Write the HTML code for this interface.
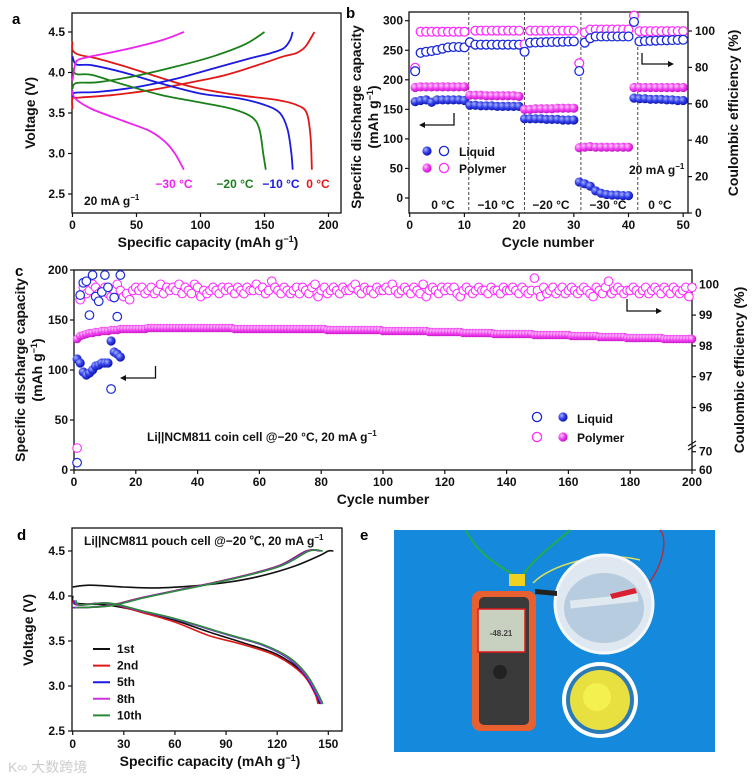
<!DOCTYPE html>
<html><head><meta charset="utf-8"><style>
html,body{margin:0;padding:0;background:#fff;}
svg{display:block;font-family:"Liberation Sans",Arial,"Noto Sans CJK SC",sans-serif;font-weight:bold;}
.t{font-size:12px;fill:#111;}
.ti{font-size:14px;fill:#111;}
.ax{stroke:#111;stroke-width:1.3;fill:none;}
</style></head><body>
<svg id="fig" width="753" height="778" viewBox="0 0 753 778" xmlns="http://www.w3.org/2000/svg">
<defs>
<radialGradient id="gB" cx="35%" cy="35%" r="70%"><stop offset="0" stop-color="#a8b4ff"/><stop offset="0.5" stop-color="#3340e8"/><stop offset="1" stop-color="#0b10a8"/></radialGradient>
<radialGradient id="gM" cx="35%" cy="35%" r="70%"><stop offset="0" stop-color="#ffd0ff"/><stop offset="0.5" stop-color="#f040f0"/><stop offset="1" stop-color="#c010c0"/></radialGradient>
</defs>
<g id="pa">
<text x="12" y="24" style="font-size:15px">a</text>
<rect class="ax" x="72" y="13" width="269" height="200"/>
<text class="ti" transform="translate(35,113) rotate(-90)" text-anchor="middle">Voltage (V)</text>
<text class="ti" x="208" y="247" text-anchor="middle">Specific capacity (mAh g<tspan dy="-5" style="font-size:9px">−1</tspan><tspan dy="5">)</tspan></text>
<text class="t" x="84" y="205">20 mA g<tspan dy="-5" style="font-size:8px">−1</tspan></text>
<text class="t" x="174" y="188" text-anchor="middle" style="fill:#ee22ee">−30 °C</text>
<text class="t" x="235" y="188" text-anchor="middle" style="fill:#1a801a">−20 °C</text>
<text class="t" x="281" y="188" text-anchor="middle" style="fill:#1a1ae0">−10 °C</text>
<text class="t" x="318" y="188" text-anchor="middle" style="fill:#e01818">0 °C</text>
</g>
<g id="pb">
<text x="346" y="18" style="font-size:15px">b</text>
<rect class="ax" x="409" y="12" width="279" height="201"/>
<text class="ti" transform="translate(361,117) rotate(-90)" text-anchor="middle">Specific discharge capacity</text>
<text class="ti" transform="translate(378,117) rotate(-90)" text-anchor="middle">(mAh g<tspan dy="-5" style="font-size:9px">−1</tspan><tspan dy="5">)</tspan></text>
<text class="ti" transform="translate(738,113) rotate(-90)" text-anchor="middle">Coulombic efficiency (%)</text>
<text class="ti" x="548" y="247" text-anchor="middle">Cycle number</text>
<text class="t" x="443" y="209" text-anchor="middle">0 °C</text>
<text class="t" x="496" y="209" text-anchor="middle">−10 °C</text>
<text class="t" x="551" y="209" text-anchor="middle">−20 °C</text>
<text class="t" x="608" y="209" text-anchor="middle">−30 °C</text>
<text class="t" x="660" y="209" text-anchor="middle">0 °C</text>
<text class="t" x="629" y="174">20 mA g<tspan dy="-5" style="font-size:8px">−1</tspan></text>
<text class="t" x="459" y="156">Liquid</text>
<text class="t" x="459" y="173">Polymer</text>
<path class="ax" d="M454 113 V125 H422"/><path d="M419 125 l6 -3 v6z" fill="#111"/>
<path class="ax" d="M642 53 V64 H670"/><path d="M674 64 l-6 -3 v6z" fill="#111"/>
</g>
<g id="pc">
<text x="15" y="276" style="font-size:15px">c</text>
<rect class="ax" x="74" y="270" width="618" height="200"/>
<text class="ti" transform="translate(25,370) rotate(-90)" text-anchor="middle">Specific discharge capacity</text>
<text class="ti" transform="translate(42,370) rotate(-90)" text-anchor="middle">(mAh g<tspan dy="-5" style="font-size:9px">−1</tspan><tspan dy="5">)</tspan></text>
<text class="ti" transform="translate(744,370) rotate(-90)" text-anchor="middle">Coulombic efficiency (%)</text>
<text class="ti" x="383" y="504" text-anchor="middle">Cycle number</text>
<text class="t" x="147" y="441">Li||NCM811 coin cell @−20 °C, 20 mA g<tspan dy="-5" style="font-size:8px">−1</tspan></text>
<text class="t" x="577" y="423">Liquid</text>
<text class="t" x="577" y="442">Polymer</text>
<path class="ax" d="M155.5 366 V378 H124"/><path d="M120 378 l6 -3 v6z" fill="#111"/>
<path class="ax" d="M627 299 V311 H658"/><path d="M662 311 l-6 -3 v6z" fill="#111"/>
<path d="M688 446 l8 -5 M688 450 l8 -5" stroke="#111" stroke-width="1.2"/>
</g>
<g id="pd">
<text x="17" y="540" style="font-size:15px">d</text>
<rect class="ax" x="72" y="528" width="270" height="203"/>
<text class="ti" transform="translate(33,630) rotate(-90)" text-anchor="middle">Voltage (V)</text>
<text class="ti" x="210" y="766" text-anchor="middle">Specific capacity (mAh g<tspan dy="-5" style="font-size:9px">−1</tspan><tspan dy="5">)</tspan></text>
<text class="t" x="84" y="545">Li||NCM811 pouch cell @−20 ℃,   20 mA g<tspan dy="-5" style="font-size:8px">−1</tspan></text>
<text x="8" y="772" style="font-size:14px;fill:#ccc;font-weight:normal">K∞ 大数跨境</text>
</g>
<g id="pe">
<text x="360" y="540" style="font-size:15px">e</text>
<g>
<rect x="394" y="530" width="321" height="222" fill="#1a8fe0"/>
<rect x="394" y="530" width="321" height="222" fill="#0f7fd8" opacity="0.4"/>
<path d="M466 530 C480 560 510 570 520 580 M520 580 C530 560 560 540 570 530" stroke="#22aa55" stroke-width="2" fill="none"/>
<path d="M533 583 C550 565 600 550 640 560" stroke="#d8e060" stroke-width="1.5" fill="none"/>
<path d="M636 594 C660 580 670 540 660 530" stroke="#b03040" stroke-width="1.5" fill="none"/>
<circle cx="604" cy="604" r="49" fill="#dfe8f0" stroke="#f4f8fb" stroke-width="3"/>
<ellipse cx="604" cy="608" rx="40" ry="35" fill="#b8cce0"/>
<rect x="570" y="597" width="68" height="8" fill="#e0e8f0" transform="rotate(-6 604 600)"/>
<path d="M535 589 l22 2 l0 5 l-22 -2z" fill="#222"/>
<path d="M610 594 l25 -6 l2 5 l-25 6z" fill="#d82030"/>
<circle cx="600" cy="700" r="38" fill="#fff"/>
<circle cx="600" cy="700" r="34" fill="#2a7ab8"/>
<circle cx="600" cy="700" r="30" fill="#e8e040"/>
<circle cx="597" cy="697" r="14" fill="#f4f050"/>
<rect x="509" y="574" width="16" height="12" fill="#f0d020"/>
<rect x="472" y="591" width="64" height="140" rx="8" fill="#e86030"/>
<rect x="479" y="597" width="50" height="128" rx="5" fill="#3a3a3a"/>
<rect x="478" y="609" width="47" height="43" fill="#c8d0c0" stroke="#e01818" stroke-width="1.5"/>
<text x="501" y="636" text-anchor="middle" style="font-size:8px;fill:#444">-48.21</text>
<circle cx="500" cy="672" r="7" fill="#222"/>
</g>
</g>
<g id="marks"></g>
</svg>
<script>
// ---------- Panel a data (capacity, voltage) ----------
const a0C_cap=[0,0,5,30,60,90,120,150,165,175,182,189];
const a0C_v=[3.55,3.68,3.69,3.72,3.78,3.87,3.97,4.12,4.2,4.24,4.32,4.5];
const a0D_cap=[0,0,5,20,40,60,80,100,130,160,175,183,186,187];
const a0D_v=[4.38,4.28,4.22,4.17,4.08,3.98,3.88,3.8,3.72,3.66,3.6,3.5,3.2,2.8];
const a10C_cap=[0,2,20,50,80,110,140,155,165,170,172];
const a10C_v=[3.7,3.75,3.76,3.82,3.92,4.05,4.18,4.24,4.3,4.4,4.5];
const a10D_cap=[0,3,15,40,70,100,130,150,162,168,171,172];
const a10D_v=[4.2,4.1,4.09,4.0,3.86,3.74,3.68,3.6,3.5,3.3,3.0,2.8];
const a20C_cap=[0,3,20,50,80,110,135,150];
const a20C_v=[3.8,3.87,3.88,3.96,4.07,4.2,4.35,4.5];
const a20D_cap=[0,3,15,40,70,100,125,140,146,149,151];
const a20D_v=[4.05,3.98,3.97,3.85,3.72,3.63,3.55,3.45,3.3,3.0,2.8];
const a30C_cap=[0,2,5,15,40,70,87];
const a30C_v=[3.9,4.1,4.16,4.2,4.28,4.4,4.5];
const a30D_cap=[0,2,15,40,60,72,80,87];
const a30D_v=[3.78,3.68,3.55,3.4,3.28,3.15,3.0,2.8];
const aXTicks=[0,50,100,150,200];
const aYTicks=[2.5,3.0,3.5,4.0,4.5];
// ---------- Panel b data ----------
const bCycles=[1,2,3,4,5,6,7,8,9,10,11,12,13,14,15,16,17,18,19,20,21,22,23,24,25,26,27,28,29,30,31,32,33,34,35,36,37,38,39,40,41,42,43,44,45,46,47,48,49,50];
const bLiqCap=[163,165,166,162,166,166,166,166,166,165,157,157,156,156,156,155,155,155,155,155,134,134,134,134,133,133,133,132,132,132,27,24,20,12,8,6,5,5,4,4,169,168,168,167,167,167,166,166,165,165];
const bPolCap=[187,188,188,188,188,188,188,188,188,188,174,174,174,173,173,173,173,173,173,172,150,150,151,151,151,151,152,152,152,152,85,86,87,86,86,86,86,86,86,86,187,187,187,187,187,187,187,187,187,187];
const bLiqCE=[77.9,88,88.6,89,89.5,90.3,91,91.2,91.2,91,93.8,92.5,92.5,92.5,92.5,92.5,92.5,92.5,92.5,92.5,88.6,93.6,93.7,93.8,93.9,94,94,94.1,94.2,94.3,78,93.6,96,97,97,97,97,97,97,97,105,94.3,94.5,94.6,94.7,94.8,94.9,95,95.1,95.2];
const bPolCE=[79.8,99.6,99.6,99.6,99.6,99.6,99.6,99.6,99.6,99.6,93.7,100.2,100.2,100.2,100.2,100.2,100.2,100.2,100.2,100.2,92.7,100.2,100.2,100.2,100.2,100.2,100.2,100.2,100.2,100.2,82.3,99.2,100.8,100.8,100.8,100.8,100.8,100.8,100.8,100.8,108.4,99.9,99.9,99.9,99.9,99.9,99.9,99.9,99.9,99.9];
const bXTicks=[0,10,20,30,40,50];
const bYTicks=[0,50,100,150,200,250,300];
const bY2Ticks=[0,20,40,60,80,100];
const bDividers=[10.8,21,31.3,41.7];
// ---------- Panel c data ----------
const cLiqCap=[111,107,98,95,97,100,104,105,107,107,107,129,118,116,113];
const cLiqCE=[64,99.65,100.05,100.1,99.0,100.3,99.6,99.45,99.75,100.3,99.9,96.6,99.57,98.95,100.3];
const cPolCap=[131,134,135,136,137,137,138,138,139,139,139,140,140,140,141,141,141,141,141,141,
141,141,141,142,142,142,142,142,142,142,142,142,142,142,142,142,142,142,142,142,
142,142,142,142,142,142,142,142,142,142,142,141,141,141,141,141,141,141,141,141,
141,141,141,141,141,141,141,141,141,141,141,141,141,141,141,141,141,141,141,141,
141,140,140,140,140,140,140,140,140,140,140,140,140,140,140,140,140,140,140,139,
139,139,139,139,139,139,139,139,139,139,139,139,139,139,138,138,138,138,138,138,
138,138,138,138,138,137,137,137,137,137,137,137,137,137,137,136,136,136,136,136,
136,136,136,136,136,136,136,136,135,135,135,135,135,135,135,135,135,135,135,135,
134,134,134,134,134,134,134,134,134,133,133,133,133,133,133,133,133,133,132,132,
132,132,132,132,132,132,132,132,132,132,131,131,131,131,131,131,131,131,131,131];
const cPolCE=[72,99.5,99.9,99.7,99.8,100.0,99.9,99.7,99.8,99.9,99.7,99.6,99.8,100.0,99.8,99.6,99.7,99.5,99.8,99.9,
99.8,99.9,99.7,99.8,99.9,99.7,99.8,100.0,99.7,99.9,99.8,99.9,99.8,100.0,99.7,99.9,99.8,99.7,100.0,99.9,
99.6,99.8,99.7,99.8,99.9,99.8,99.7,99.9,99.8,99.9,99.8,99.7,99.9,99.8,99.7,99.9,99.8,99.8,100.0,99.8,
99.9,99.7,99.8,100.1,99.9,99.8,99.7,99.9,99.8,99.7,99.8,99.9,99.7,99.9,99.8,99.7,99.9,100.0,99.6,99.8,
99.9,99.7,99.8,99.9,99.8,99.7,99.9,99.8,99.8,99.9,100.0,99.8,99.7,99.9,99.8,99.8,99.7,99.9,99.8,99.8,
99.9,99.8,100.0,99.8,99.7,99.8,99.9,99.8,99.7,99.9,99.8,99.7,100.0,99.6,99.8,99.9,99.8,99.7,99.9,99.8,
99.9,99.8,99.9,99.7,99.6,99.8,99.9,99.8,99.7,99.8,99.9,99.8,99.8,99.7,99.9,99.8,99.8,99.7,99.9,99.8,
99.8,99.9,99.8,99.7,99.9,99.8,99.7,99.8,100.2,99.8,99.6,99.9,99.7,99.8,99.9,99.7,99.8,99.9,99.7,99.8,
99.9,99.8,99.7,99.8,99.9,99.8,99.7,99.6,99.9,99.8,99.7,99.9,100.1,99.7,99.8,99.9,99.8,99.7,99.8,99.8,
99.9,99.8,99.7,99.8,99.9,99.7,99.8,99.9,99.8,99.7,99.9,99.8,99.7,99.9,99.8,99.7,99.8,99.9,99.6,99.9];
const cXTicks=[0,20,40,60,80,100,120,140,160,180,200];
const cYTicks=[0,50,100,150,200];
const cY2Ticks=[60,70,96,97,98,99,100];
// ---------- Panel d data ----------
const d1C_cap=[0,10,30,50,70,90,110,130,145,150,153];
const d1C_v=[4.1,4.12,4.1,4.09,4.11,4.15,4.22,4.33,4.45,4.5,4.5];
const dC_cap=[0,20,40,60,90,120,137,145];
const dC_v=[3.87,3.89,3.98,4.06,4.18,4.33,4.5,4.5];
const d1D_cap=[0,2,20,40,60,80,100,120,135,142,145];
const d1D_v=[4.0,3.92,3.9,3.83,3.73,3.6,3.48,3.35,3.15,2.95,2.8];
const d2D_cap=[0,3,20,40,60,80,100,120,135,142,144];
const d2D_v=[3.95,3.9,3.92,3.82,3.71,3.56,3.46,3.33,3.13,2.92,2.8];
const dND_cap=[0,3,20,40,60,90,110,125,135,142,145];
const dND_v=[3.95,3.9,3.92,3.83,3.74,3.57,3.46,3.32,3.14,2.92,2.8];
const dXTicks=[0,30,60,90,120,150];
const dYTicks=[2.5,3.0,3.5,4.0,4.5];

const NS='http://www.w3.org/2000/svg';
const root=document.getElementById('marks');
function mk(tag,attrs,parent){const e=document.createElementNS(NS,tag);for(const k in attrs)e.setAttribute(k,attrs[k]);(parent||root).appendChild(e);return e;}
function line(caps,vs,fx,fy,color,w){
  const P=caps.map((c,i)=>[fx(c),fy(vs[i])]);
  let d='M'+P[0][0].toFixed(1)+' '+P[0][1].toFixed(1);
  for(let i=0;i<P.length-1;i++){
    const p0=P[Math.max(0,i-1)],p1=P[i],p2=P[i+1],p3=P[Math.min(P.length-1,i+2)];
    const c1=[p1[0]+(p2[0]-p0[0])/6,p1[1]+(p2[1]-p0[1])/6];
    const c2=[p2[0]-(p3[0]-p1[0])/6,p2[1]-(p3[1]-p1[1])/6];
    d+=' C'+c1[0].toFixed(1)+' '+c1[1].toFixed(1)+' '+c2[0].toFixed(1)+' '+c2[1].toFixed(1)+' '+p2[0].toFixed(1)+' '+p2[1].toFixed(1);
  }
  return mk('path',{d:d,fill:'none',stroke:color,'stroke-width':w||1.8,'stroke-linejoin':'round'});
}
function txt(x,y,s,anchor){const e=mk('text',{x:x,y:y,'text-anchor':anchor||'middle',class:'t'});e.textContent=s;return e;}

const ax=c=>72.5+c*1.28, ay=v=>32+(4.5-v)*81;
const bx=c=>409.7+c*5.47, byL=v=>198-v*0.591, byR=v=>213-v*1.82;
const cx=c=>74+c*3.09, cyL=v=>470-v, cyR=v=>v>=95?284.3-(v-100)*30.8:470-(v-60)*1.83;
const dx=c=>72.7+c*1.704, dy=v=>551+(4.5-v)*90;

// ---- Panel a ----
aXTicks.forEach(t=>{const tk=mk('line',{x1:ax(t),x2:ax(t),y1:213,y2:217,stroke:'#111','stroke-width':1.2});


const l=txt(ax(t),229,String(t));

});
aYTicks.forEach(t=>{const tk=mk('line',{x1:68,x2:72,y1:ay(t),y2:ay(t),stroke:'#111','stroke-width':1.2});


const l=txt(65,ay(t)+4,t.toFixed(1),'end');

});
[[a0C_cap,a0C_v,'#e01818'],[a0D_cap,a0D_v,'#e01818'],[a10C_cap,a10C_v,'#1a1ae0'],[a10D_cap,a10D_v,'#1a1ae0'],[a20C_cap,a20C_v,'#1a801a'],[a20D_cap,a20D_v,'#1a801a'],[a30C_cap,a30C_v,'#ee22ee'],[a30D_cap,a30D_v,'#ee22ee']].forEach(s=>{
const p=line(s[0],s[1],ax,ay,s[2]);

});

// ---- Panel b ----
bDividers.forEach(c=>{const l=mk('line',{x1:bx(c),x2:bx(c),y1:12,y2:213,stroke:'#333','stroke-width':0.9,'stroke-dasharray':'3,2'});

});
bXTicks.forEach(t=>{const tk=mk('line',{x1:bx(t),x2:bx(t),y1:213,y2:217,stroke:'#111','stroke-width':1.2});


const l=txt(bx(t),229,String(t));

});
bYTicks.forEach(t=>{const tk=mk('line',{x1:405,x2:409,y1:byL(t),y2:byL(t),stroke:'#111','stroke-width':1.2});


const l=txt(403,byL(t)+4,String(t),'end');

});
bY2Ticks.forEach(t=>{const tk=mk('line',{x1:688,x2:692,y1:byR(t),y2:byR(t),stroke:'#111','stroke-width':1.2});


const l=txt(695,byR(t)+4,String(t),'start');

});
bCycles.forEach((c,i)=>{
const p1=mk('circle',{cx:bx(c),cy:byR(bPolCE[i]),r:4.4,fill:'#fff',stroke:'#ff30ff','stroke-width':1.3});


const p2=mk('circle',{cx:bx(c),cy:byR(bLiqCE[i]),r:4.4,fill:'#fff',stroke:'#1a2ad8','stroke-width':1.3});


const p3=mk('circle',{cx:bx(c),cy:byL(bPolCap[i]),r:4.6,fill:'url(#gM)'});


const p4=mk('circle',{cx:bx(c),cy:byL(bLiqCap[i]),r:4.6,fill:'url(#gB)'});

});
[[427,151,'url(#gB)',null],[444,151,'#fff','#1a2ad8'],[427,168,'url(#gM)',null],[444,168,'#fff','#ff30ff']].forEach(s=>{
const c=mk('circle',{cx:s[0],cy:s[1],r:4.6,fill:s[2],stroke:s[3]||'none','stroke-width':1.3});

});

// ---- Panel c ----
cXTicks.forEach(t=>{const tk=mk('line',{x1:cx(t),x2:cx(t),y1:470,y2:474,stroke:'#111','stroke-width':1.2});


const l=txt(cx(t),486,String(t));

});
cYTicks.forEach(t=>{const tk=mk('line',{x1:70,x2:74,y1:cyL(t),y2:cyL(t),stroke:'#111','stroke-width':1.2});


const l=txt(68,cyL(t)+4,String(t),'end');

});
cY2Ticks.forEach(t=>{const tk=mk('line',{x1:692,x2:696,y1:cyR(t),y2:cyR(t),stroke:'#111','stroke-width':1.2});


const l=txt(699,cyR(t)+4,String(t),'start');

});
cPolCE.forEach((v,i)=>{const p=mk('circle',{cx:cx(i+1),cy:cyR(v),r:4.3,fill:'#fff',stroke:'#ff30ff','stroke-width':1.1});

});
cPolCap.forEach((v,i)=>{const p=mk('circle',{cx:cx(i+1),cy:cyL(v),r:4.3,fill:'url(#gM)'});

});
cLiqCE.forEach((v,i)=>{const p=mk('circle',{cx:cx(i+1),cy:cyR(v),r:4.3,fill:'#fff',stroke:'#1a2ad8','stroke-width':1.2});

});
cLiqCap.forEach((v,i)=>{const p=mk('circle',{cx:cx(i+1),cy:cyL(v),r:4.6,fill:'url(#gB)'});

});
[[537,417,'#fff','#1a2ad8'],[563,417,'url(#gB)',null],[537,437,'#fff','#ff30ff'],[563,437,'url(#gM)',null]].forEach(s=>{
const c=mk('circle',{cx:s[0],cy:s[1],r:4.6,fill:s[2],stroke:s[3]||'none','stroke-width':1.3});

});

// ---- Panel d ----
dXTicks.forEach(t=>{const tk=mk('line',{x1:dx(t),x2:dx(t),y1:731,y2:735,stroke:'#111','stroke-width':1.2});


const l=txt(dx(t),748,String(t));

});
dYTicks.forEach(t=>{const tk=mk('line',{x1:68,x2:72,y1:dy(t),y2:dy(t),stroke:'#111','stroke-width':1.2});


const l=txt(65,dy(t)+4,t.toFixed(1),'end');

});
const dSeries=[[d1C_cap,d1C_v,'#111'],[d1D_cap,d1D_v,'#111'],[dC_cap,dC_v,'#e01818'],[d2D_cap,d2D_v,'#e01818'],[dC_cap,dC_v,'#1a1ae0'],[dND_cap,dND_v,'#1a1ae0'],[dC_cap,dC_v,'#cc33dd'],[dND_cap,dND_v,'#cc33dd'],[dC_cap,dC_v,'#2a8a3a'],[dND_cap,dND_v,'#2a8a3a']];
dSeries.forEach((s,i)=>{const off=(i>=2?Math.floor(i/2)-1:0)*0.6;
const p=line(s[0].map(c=>c+off),s[1],dx,dy,s[2],1.6);

});
[['1st','#111'],['2nd','#e01818'],['5th','#1a1ae0'],['8th','#cc33dd'],['10th','#2a8a3a']].forEach((s,i)=>{const y=649+i*16.6;
const l=mk('line',{x1:93,x2:110,y1:y,y2:y,stroke:s[1],'stroke-width':2});


const t=txt(117,y+4,s[0],'start');

});
</script>
</body></html>
